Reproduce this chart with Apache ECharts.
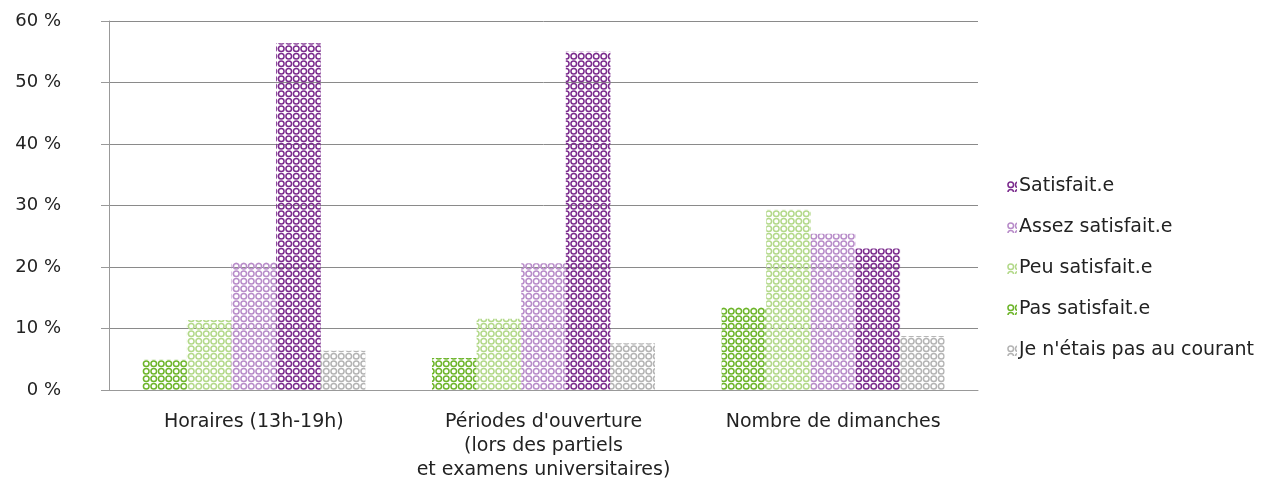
<!DOCTYPE html>
<html>
<head>
  <meta charset="utf-8">
  <title>Satisfaction</title>
  <script src="https://cdn.jsdelivr.net/npm/echarts@6/dist/echarts.min.js"></script>
  <style>
    html, body { margin: 0; padding: 0; background: #fff; }
    #chart { width: 1269px; height: 491px; }
  </style>
</head>
<body>
  <div id="chart"></div>
  <script>
    const categories = [
      'Horaires (13h-19h)',
      "Périodes d'ouverture\n(lors des partiels\net examens universitaires)",
      'Nombre de dimanches'
    ];
    const seriesNames = ['Pas satisfait.e', 'Peu satisfait.e', 'Assez satisfait.e', 'Satisfait.e', "Je n'étais pas au courant"];
    const pasSatisfait = [4.9, 5.2, 13.5];
    const peuSatisfait = [11.4, 11.6, 29.3];
    const assezSatisfait = [20.8, 20.6, 25.4];
    const satisfait = [56.4, 55.0, 23.0];
    const pasAuCourant = [6.4, 7.6, 8.8];
    const yTicks = [0, 10, 20, 30, 40, 50, 60];
    const legendOrder = ['Satisfait.e', 'Assez satisfait.e', 'Peu satisfait.e', 'Pas satisfait.e', "Je n'étais pas au courant"];

    const colors = ['#6db52a', '#b3d98a', '#b88cc9', '#7b2b8d', '#b4b4b4'];
    const values = [pasSatisfait, peuSatisfait, assezSatisfait, satisfait, pasAuCourant];

    // small tiled "o" pattern, like the Excel fill
    function makePattern(color) {
      const c = document.createElement('canvas');
      c.width = 15; c.height = 15;
      const ctx = c.getContext('2d');
      ctx.strokeStyle = color;
      ctx.lineWidth = 1.5;
      [[3.75, 3.75], [11.25, 3.75], [3.75, 11.25], [11.25, 11.25]].forEach(function (p) {
        ctx.beginPath();
        ctx.arc(p[0], p[1], 2.8, 0, Math.PI * 2);
        ctx.stroke();
      });
      return c;
    }

    const font = '"DejaVu Sans", sans-serif';
    const chart = echarts.init(document.getElementById('chart'));

    chart.setOption({
      animation: false,
      textStyle: { fontFamily: font },
      grid: { left: 109, right: 291, top: 21, bottom: 101 },
      legend: {
        orient: 'vertical',
        left: 1002,
        top: 172,
        itemWidth: 10,
        itemHeight: 11,
        itemGap: 22,
        icon: 'rect',
        data: legendOrder,
        textStyle: { fontSize: 19, lineHeight: 19, color: '#222', fontFamily: font, padding: [0, 0, 0, -3] }
      },
      xAxis: {
        type: 'category',
        data: categories,
        axisLine: { lineStyle: { color: '#999' } },
        axisTick: { length: 8, lineStyle: { color: '#999' } },
        axisLabel: { margin: 20, fontSize: 19, color: '#222', lineHeight: 24, interval: 0 }
      },
      yAxis: {
        type: 'value',
        min: 0,
        max: yTicks[yTicks.length - 1],
        interval: 10,
        axisLine: { show: true, lineStyle: { color: '#999' } },
        axisTick: { show: true, length: 8, lineStyle: { color: '#999' } },
        splitLine: { lineStyle: { color: '#8a8a8a' } },
        axisLabel: { margin: 48, fontSize: 18, color: '#222', formatter: function (v) { return v + ' %'; } }
      },
      series: seriesNames.map(function (name, i) {
        return {
          name: name,
          type: 'bar',
          data: values[i],
          barGap: '0%',
          barCategoryGap: '23%',
          itemStyle: { color: { image: makePattern(colors[i]), repeat: 'repeat' } }
        };
      })
    });
  </script>
</body>
</html>
